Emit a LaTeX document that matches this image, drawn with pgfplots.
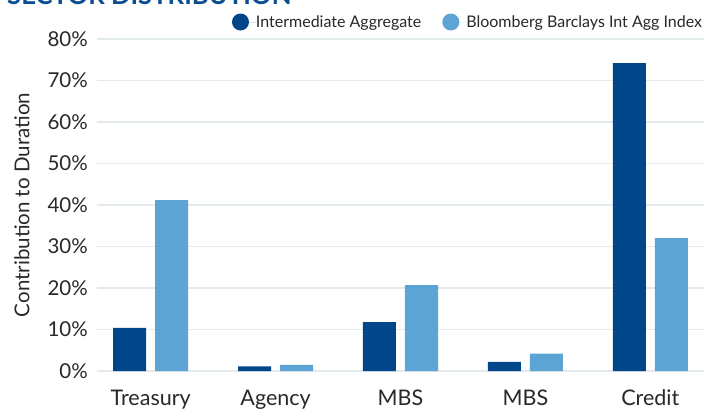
\documentclass[border=0pt]{standalone}
\usepackage{pgfplots}
\pgfplotsset{compat=1.18}
\usepackage{fontspec}
\setmainfont{Lato}
\definecolor{darkblue}{RGB}{0,70,137}
\definecolor{lightblue}{RGB}{91,164,212}
\definecolor{gridc}{RGB}{226,234,236}
\definecolor{titleblue}{RGB}{10,78,145}
\definecolor{textc}{RGB}{40,40,40}
\begin{document}
\begin{tikzpicture}[x=1pt,y=1pt]
\useasboundingbox (0,0) rectangle (705,408);
\node[overlay, anchor=base west, inner sep=0, text=titleblue, font=\fontsize{25.7}{30}\selectfont\bfseries] at (7,403.8) {SECTOR DISTRIBUTION};
\begin{axis}[
  at={(97pt,37pt)}, anchor=south west,
  scale only axis, width=607pt, height=332pt,
  ybar=9pt, bar width=33pt,
  xmin=-0.43, xmax=4.43, ymin=0, ymax=80,
  xtick={0,1,2,3,4},
  xticklabels={Treasury,Agency,MBS,MBS,Credit},
  ytick={0,10,20,30,40,50,60,70,80},
  yticklabels={0\%,10\%,20\%,30\%,40\%,50\%,60\%,70\%,80\%},
  axis lines=left,
  axis line style={draw=none},
  ymajorgrids, grid style={gridc, line width=1.8pt},
  major tick length=0pt,
  tick style={draw=none},
  tick label style={text=textc},
  yticklabel style={anchor=east, inner sep=0pt, xshift=-9pt, font=\fontsize{20.5}{24}\selectfont},
  xticklabel style={anchor=base, inner sep=0pt, yshift=-34.3pt, font=\fontsize{21.5}{24}\selectfont},
  ylabel={Contribution to Duration},
  ylabel style={at={(axis description cs:-0.1236,0.5)}, anchor=center, text=textc, font=\fontsize{20.5}{24}\selectfont},
  clip=false,
  legend columns=2,
  legend style={at={(axis description cs:0.2224,1.0512)}, anchor=west, draw=none, fill=none, inner sep=0pt, outer sep=0pt, nodes={inner sep=0pt}, font=\fontsize{16}{20}\selectfont, text=textc, /tikz/every even column/.style={column sep=21pt}},
  legend image code/.code={\fill[#1] (8.5pt,0pt) circle (8.5pt); \path (0pt,0pt) -- (24pt,0pt);},
]
\addplot[fill=darkblue, draw=none] coordinates {(0,10.4) (1,1.1) (2,11.8) (3,2.2) (4,74.2)};
\addlegendentry{Intermediate Aggregate}
\addplot[fill=lightblue, draw=none] coordinates {(0,41.2) (1,1.5) (2,20.7) (3,4.2) (4,32.0)};
\addlegendentry{Bloomberg Barclays Int Agg Index}
\end{axis}
\end{tikzpicture}
\end{document}
